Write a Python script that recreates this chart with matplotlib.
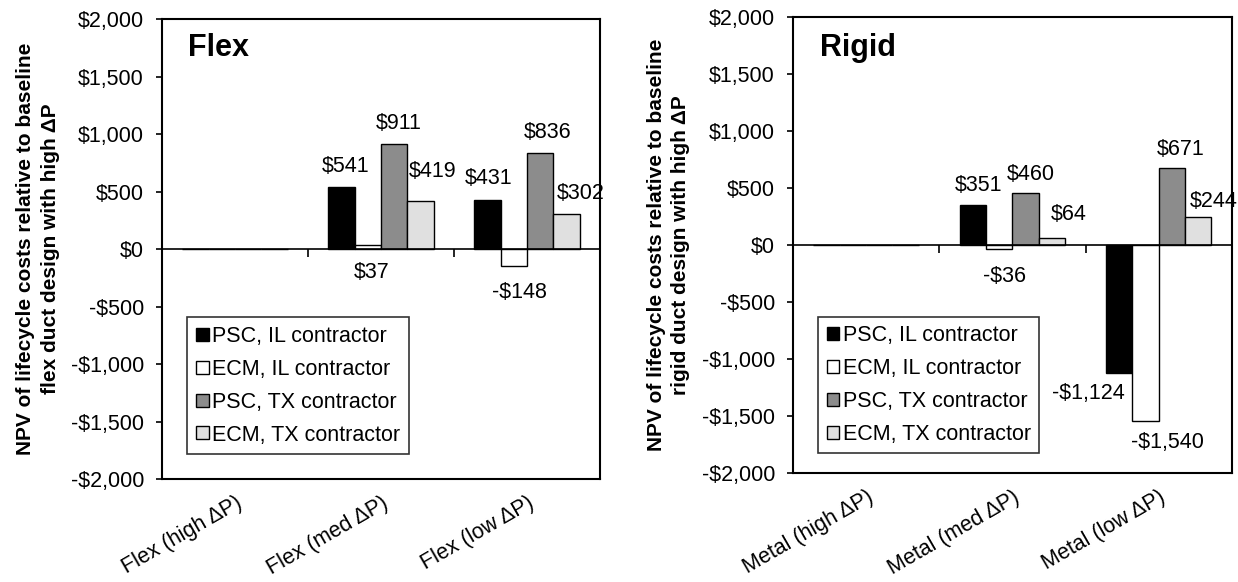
import matplotlib.pyplot as plt
import numpy as np
from matplotlib.ticker import FuncFormatter

plt.rcParams['font.family'] = ['Liberation Sans', 'DejaVu Sans']

series = ['PSC, IL contractor', 'ECM, IL contractor', 'PSC, TX contractor', 'ECM, TX contractor']
colors = ['#000000', '#ffffff', '#8c8c8c', '#e0e0e0']

flex_cats = ['Flex (high ΔP)', 'Flex (med ΔP)', 'Flex (low ΔP)']
flex_vals = [
    [0, 541, 431],
    [0, 37, -148],
    [0, 911, 836],
    [0, 419, 302],
]
rigid_cats = ['Metal (high ΔP)', 'Metal (med ΔP)', 'Metal (low ΔP)']
rigid_vals = [
    [0, 351, -1124],
    [0, -36, -1540],
    [0, 460, 671],
    [0, 64, 244],
]

# label offsets in points (dx, dy) from bar end, per series / category
flex_offs = [
    [None, (3, 15), (1, 15)],
    [None, (3, -20), (4, -19)],
    [None, (3, 15), (5, 15)],
    [None, (9, 21), (10, 15)],
]
rigid_offs = [
    [None, (4, 14), (-22, -15)],
    [None, (4, -20), (16, -16)],
    [None, (4, 13), (6, 14)],
    [None, (12, 17), (11, 11)],
]

FS = 15.5


def money(v, pos=None):
    v = int(round(v))
    return f'-${abs(v):,}' if v < 0 else f'${v:,}'


def panel(ax, cats, vals, offs, title, ylab, tx, ty):
    x = np.arange(len(cats))
    w = 0.18
    for i, (s, c) in enumerate(zip(series, colors)):
        pos = x + (i - 1.5) * w
        ax.bar(pos, vals[i], w, color=c, edgecolor='black', linewidth=1.0, label=s, zorder=2)
        for j, v in enumerate(vals[i]):
            if offs[i][j] is None:
                continue
            dx, dy = offs[i][j]
            ax.annotate(money(v), (pos[j], v), xytext=(dx, dy), textcoords='offset points',
                        ha='center', va='center', fontsize=FS)
    ax.axhline(0, color='black', linewidth=1.2, zorder=3)
    bounds = np.arange(len(cats) - 1) + 0.5
    ax.plot(bounds, np.zeros_like(bounds), linestyle='none', marker=3, markersize=6,
            markeredgewidth=1.2, color='black', zorder=3)
    ax.set_xlim(-0.5, len(cats) - 0.5)
    ax.set_ylim(-2000, 2000)
    ax.set_yticks(np.arange(-2000, 2001, 500))
    ax.yaxis.set_major_formatter(FuncFormatter(money))
    ax.tick_params(axis='y', direction='out', length=4, width=1.2, labelsize=FS, pad=9)
    ax.set_xticks(x)
    ax.set_xticklabels(cats, rotation=30, ha='right', rotation_mode='anchor', fontsize=FS)
    ax.tick_params(axis='x', length=0, pad=10)
    for sp in ax.spines.values():
        sp.set_linewidth(1.5)
    ax.set_ylabel(ylab, fontsize=15, fontweight='bold', labelpad=8, linespacing=1.35)
    ax.text(tx, ty, title, transform=ax.transAxes, fontsize=22, fontweight='bold', va='center')
    return ax


fig = plt.figure(figsize=(12.38, 5.82), dpi=100)
ax1 = fig.add_axes([0.1309, 0.177, 0.3538, 0.790])
ax2 = fig.add_axes([0.6405, 0.1873, 0.3546, 0.7835])

panel(ax1, flex_cats, flex_vals, flex_offs, 'Flex',
      'NPV of lifecycle costs relative to baseline\nflex duct design with high ΔP', 0.06, 0.937)
panel(ax2, rigid_cats, rigid_vals, rigid_offs, 'Rigid',
      'NPV of lifecycle costs relative to baseline\nrigid duct design with high ΔP', 0.062, 0.933)

for ax, y0 in ((ax1, 0.054), (ax2, 0.043)):
    leg = ax.legend(loc='lower left', bbox_to_anchor=(0.057, y0), borderaxespad=0,
                    fontsize=FS, frameon=True, fancybox=False, edgecolor='black',
                    handlelength=0.6, handleheight=0.55, handletextpad=0.15,
                    labelspacing=0.55, borderpad=0.4)
    leg.get_frame().set_linewidth(1.2)

fig.savefig('out.png', dpi=100)
